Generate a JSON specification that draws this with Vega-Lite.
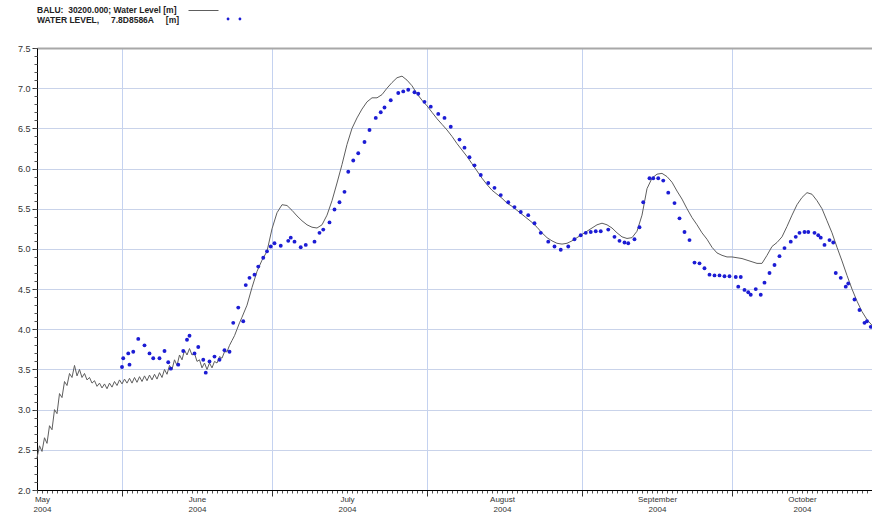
{
  "$schema": "https://vega.github.io/schema/vega-lite/v6.json",
  "width": 835,
  "height": 442,
  "autosize": "none",
  "padding": {"left": 37, "top": 48, "right": 0, "bottom": 30},
  "background": "white",
  "title": {
    "text": ["BALU:\u00a0\u00a030200.000; Water Level [m]", "WATER LEVEL,\u00a0\u00a0\u00a0\u00a0\u00a07.8D8586A\u00a0\u00a0\u00a0\u00a0\u00a0[m]"],
    "anchor": "start",
    "frame": "group",
    "font": "Liberation Sans",
    "fontSize": 8.5,
    "fontWeight": "bold",
    "color": "#222",
    "lineHeight": 10,
    "offset": 0,
    "dy": 29
  },
  "datasets": {
    "balu": [
      {"t":"2004-05-15T00:00","v":2.40},{"t":"2004-05-15T12:00","v":2.55},
      {"t":"2004-05-16T00:00","v":2.48},{"t":"2004-05-16T12:00","v":2.65},
      {"t":"2004-05-17T00:00","v":2.58},{"t":"2004-05-17T12:00","v":2.80},
      {"t":"2004-05-18T00:00","v":2.75},{"t":"2004-05-18T12:00","v":3.00},
      {"t":"2004-05-19T00:00","v":2.95},{"t":"2004-05-19T12:00","v":3.20},
      {"t":"2004-05-20T00:00","v":3.15},{"t":"2004-05-20T12:00","v":3.35},
      {"t":"2004-05-21T00:00","v":3.30},{"t":"2004-05-21T12:00","v":3.45},
      {"t":"2004-05-22T00:00","v":3.40},{"t":"2004-05-22T12:00","v":3.55},
      {"t":"2004-05-23T00:00","v":3.42},{"t":"2004-05-23T12:00","v":3.50},
      {"t":"2004-05-24T00:00","v":3.40},{"t":"2004-05-24T12:00","v":3.45},
      {"t":"2004-05-25T00:00","v":3.37},{"t":"2004-05-25T12:00","v":3.40},
      {"t":"2004-05-26T00:00","v":3.33},{"t":"2004-05-26T12:00","v":3.36},
      {"t":"2004-05-27T00:00","v":3.29},{"t":"2004-05-27T12:00","v":3.33},
      {"t":"2004-05-28T00:00","v":3.27},{"t":"2004-05-28T12:00","v":3.32},
      {"t":"2004-05-29T00:00","v":3.26},{"t":"2004-05-29T12:00","v":3.33},
      {"t":"2004-05-30T00:00","v":3.28},{"t":"2004-05-30T12:00","v":3.35},
      {"t":"2004-05-31T00:00","v":3.30},{"t":"2004-05-31T12:00","v":3.37},
      {"t":"2004-06-01T00:00","v":3.32},{"t":"2004-06-01T12:00","v":3.38},
      {"t":"2004-06-02T00:00","v":3.33},{"t":"2004-06-02T12:00","v":3.39},
      {"t":"2004-06-03T00:00","v":3.33},{"t":"2004-06-03T12:00","v":3.40},
      {"t":"2004-06-04T00:00","v":3.34},{"t":"2004-06-04T12:00","v":3.41},
      {"t":"2004-06-05T00:00","v":3.35},{"t":"2004-06-05T12:00","v":3.42},
      {"t":"2004-06-06T00:00","v":3.36},{"t":"2004-06-06T12:00","v":3.43},
      {"t":"2004-06-07T00:00","v":3.37},{"t":"2004-06-07T12:00","v":3.44},
      {"t":"2004-06-08T00:00","v":3.38},{"t":"2004-06-08T12:00","v":3.46},
      {"t":"2004-06-09T00:00","v":3.40},{"t":"2004-06-09T12:00","v":3.50},
      {"t":"2004-06-10T00:00","v":3.44},{"t":"2004-06-10T12:00","v":3.55},
      {"t":"2004-06-11T00:00","v":3.50},{"t":"2004-06-11T12:00","v":3.62},
      {"t":"2004-06-12T00:00","v":3.55},{"t":"2004-06-12T12:00","v":3.68},
      {"t":"2004-06-13T00:00","v":3.62},{"t":"2004-06-13T12:00","v":3.74},
      {"t":"2004-06-14T00:00","v":3.68},{"t":"2004-06-14T12:00","v":3.76},
      {"t":"2004-06-15T00:00","v":3.68},{"t":"2004-06-15T12:00","v":3.70},
      {"t":"2004-06-16T00:00","v":3.60},{"t":"2004-06-16T12:00","v":3.62},
      {"t":"2004-06-17T00:00","v":3.52},{"t":"2004-06-17T12:00","v":3.58},
      {"t":"2004-06-18T00:00","v":3.50},{"t":"2004-06-18T12:00","v":3.58},
      {"t":"2004-06-19T00:00","v":3.52},{"t":"2004-06-19T12:00","v":3.60},
      {"t":"2004-06-20T00:00","v":3.58},{"t":"2004-06-20T12:00","v":3.66},
      {"t":"2004-06-21T00:00","v":3.64},{"t":"2004-06-21T12:00","v":3.72},
      {"t":"2004-06-22T00:00","v":3.72},{"t":"2004-06-22T12:00","v":3.80},
      {"t":"2004-06-23T00:00","v":3.86},{"t":"2004-06-23T12:00","v":3.92},
      {"t":"2004-06-24T00:00","v":4.00},{"t":"2004-06-24T12:00","v":4.08},
      {"t":"2004-06-25T00:00","v":4.15},
      {"t":"2004-06-26T00:00","v":4.30},{"t":"2004-06-27T00:00","v":4.52},
      {"t":"2004-06-28T00:00","v":4.72},{"t":"2004-06-29T00:00","v":4.86},
      {"t":"2004-06-30T00:00","v":4.97},{"t":"2004-07-01T00:00","v":5.25},
      {"t":"2004-07-02T00:00","v":5.45},{"t":"2004-07-03T00:00","v":5.55},
      {"t":"2004-07-04T00:00","v":5.54},{"t":"2004-07-05T00:00","v":5.48},
      {"t":"2004-07-06T00:00","v":5.41},{"t":"2004-07-07T00:00","v":5.35},
      {"t":"2004-07-08T00:00","v":5.30},{"t":"2004-07-09T00:00","v":5.27},
      {"t":"2004-07-10T00:00","v":5.26},{"t":"2004-07-11T00:00","v":5.30},
      {"t":"2004-07-12T00:00","v":5.42},{"t":"2004-07-13T00:00","v":5.60},
      {"t":"2004-07-14T00:00","v":5.82},{"t":"2004-07-15T00:00","v":6.05},
      {"t":"2004-07-16T00:00","v":6.30},{"t":"2004-07-17T00:00","v":6.50},
      {"t":"2004-07-18T00:00","v":6.63},{"t":"2004-07-19T00:00","v":6.74},
      {"t":"2004-07-20T00:00","v":6.83},{"t":"2004-07-21T00:00","v":6.88},
      {"t":"2004-07-22T00:00","v":6.88},{"t":"2004-07-23T00:00","v":6.92},
      {"t":"2004-07-24T00:00","v":7.00},{"t":"2004-07-25T00:00","v":7.07},
      {"t":"2004-07-26T00:00","v":7.13},{"t":"2004-07-27T00:00","v":7.15},
      {"t":"2004-07-28T00:00","v":7.10},{"t":"2004-07-29T00:00","v":7.03},
      {"t":"2004-07-30T00:00","v":6.93},{"t":"2004-07-31T00:00","v":6.85},
      {"t":"2004-08-01T00:00","v":6.78},{"t":"2004-08-02T00:00","v":6.70},
      {"t":"2004-08-03T00:00","v":6.62},{"t":"2004-08-04T00:00","v":6.55},
      {"t":"2004-08-05T00:00","v":6.48},{"t":"2004-08-06T00:00","v":6.40},
      {"t":"2004-08-07T00:00","v":6.31},{"t":"2004-08-08T00:00","v":6.23},
      {"t":"2004-08-09T00:00","v":6.15},{"t":"2004-08-10T00:00","v":6.06},
      {"t":"2004-08-11T00:00","v":5.97},{"t":"2004-08-12T00:00","v":5.88},
      {"t":"2004-08-13T00:00","v":5.80},{"t":"2004-08-14T00:00","v":5.73},
      {"t":"2004-08-15T00:00","v":5.68},{"t":"2004-08-16T00:00","v":5.63},
      {"t":"2004-08-17T00:00","v":5.57},{"t":"2004-08-18T00:00","v":5.53},
      {"t":"2004-08-19T00:00","v":5.48},{"t":"2004-08-20T00:00","v":5.43},
      {"t":"2004-08-21T00:00","v":5.38},{"t":"2004-08-22T00:00","v":5.33},
      {"t":"2004-08-23T00:00","v":5.27},{"t":"2004-08-24T00:00","v":5.20},
      {"t":"2004-08-25T00:00","v":5.14},{"t":"2004-08-26T00:00","v":5.10},
      {"t":"2004-08-27T00:00","v":5.07},{"t":"2004-08-28T00:00","v":5.06},
      {"t":"2004-08-29T00:00","v":5.07},{"t":"2004-08-30T00:00","v":5.10},
      {"t":"2004-08-31T00:00","v":5.14},{"t":"2004-09-01T00:00","v":5.18},
      {"t":"2004-09-02T00:00","v":5.22},{"t":"2004-09-03T00:00","v":5.26},
      {"t":"2004-09-04T00:00","v":5.30},{"t":"2004-09-05T00:00","v":5.32},
      {"t":"2004-09-06T00:00","v":5.30},{"t":"2004-09-07T00:00","v":5.26},
      {"t":"2004-09-08T00:00","v":5.20},{"t":"2004-09-09T00:00","v":5.15},
      {"t":"2004-09-10T00:00","v":5.13},{"t":"2004-09-11T00:00","v":5.14},
      {"t":"2004-09-12T00:00","v":5.22},{"t":"2004-09-13T00:00","v":5.42},
      {"t":"2004-09-14T00:00","v":5.75},{"t":"2004-09-15T00:00","v":5.88},
      {"t":"2004-09-16T00:00","v":5.93},{"t":"2004-09-17T00:00","v":5.94},
      {"t":"2004-09-18T00:00","v":5.90},{"t":"2004-09-19T00:00","v":5.83},
      {"t":"2004-09-20T00:00","v":5.72},{"t":"2004-09-21T00:00","v":5.62},
      {"t":"2004-09-22T00:00","v":5.50},{"t":"2004-09-23T00:00","v":5.39},
      {"t":"2004-09-24T00:00","v":5.30},{"t":"2004-09-25T00:00","v":5.20},
      {"t":"2004-09-26T00:00","v":5.12},{"t":"2004-09-27T00:00","v":5.02},
      {"t":"2004-09-28T00:00","v":4.95},{"t":"2004-09-29T00:00","v":4.92},
      {"t":"2004-09-30T00:00","v":4.90},{"t":"2004-10-01T00:00","v":4.90},
      {"t":"2004-10-02T00:00","v":4.89},{"t":"2004-10-03T00:00","v":4.88},
      {"t":"2004-10-04T00:00","v":4.86},{"t":"2004-10-05T00:00","v":4.84},
      {"t":"2004-10-06T00:00","v":4.82},{"t":"2004-10-07T00:00","v":4.82},
      {"t":"2004-10-08T00:00","v":4.92},{"t":"2004-10-09T00:00","v":5.03},
      {"t":"2004-10-10T00:00","v":5.08},{"t":"2004-10-11T00:00","v":5.15},
      {"t":"2004-10-12T00:00","v":5.28},{"t":"2004-10-13T00:00","v":5.42},
      {"t":"2004-10-14T00:00","v":5.55},{"t":"2004-10-15T00:00","v":5.64},
      {"t":"2004-10-16T00:00","v":5.70},{"t":"2004-10-17T00:00","v":5.68},
      {"t":"2004-10-18T00:00","v":5.60},{"t":"2004-10-19T00:00","v":5.50},
      {"t":"2004-10-20T00:00","v":5.35},{"t":"2004-10-21T00:00","v":5.20},
      {"t":"2004-10-22T00:00","v":5.02},{"t":"2004-10-23T00:00","v":4.85},
      {"t":"2004-10-24T00:00","v":4.67},{"t":"2004-10-25T00:00","v":4.50},
      {"t":"2004-10-26T00:00","v":4.35},{"t":"2004-10-27T00:00","v":4.22},
      {"t":"2004-10-28T00:00","v":4.12},{"t":"2004-10-29T00:00","v":4.05}
    ],
    "obs": [
      {"t":"2004-06-01T00:00","v":3.53},{"t":"2004-06-01T06:00","v":3.64},
      {"t":"2004-06-02T06:00","v":3.70},{"t":"2004-06-02T12:00","v":3.56},
      {"t":"2004-06-03T06:00","v":3.72},{"t":"2004-06-04T06:00","v":3.88},
      {"t":"2004-06-05T12:00","v":3.80},{"t":"2004-06-06T12:00","v":3.70},
      {"t":"2004-06-07T06:00","v":3.64},{"t":"2004-06-08T12:00","v":3.64},
      {"t":"2004-06-09T12:00","v":3.73},{"t":"2004-06-10T06:00","v":3.59},
      {"t":"2004-06-10T18:00","v":3.51},{"t":"2004-06-12T06:00","v":3.56},
      {"t":"2004-06-13T06:00","v":3.73},{"t":"2004-06-14T00:00","v":3.87},
      {"t":"2004-06-14T12:00","v":3.92},{"t":"2004-06-15T12:00","v":3.70},
      {"t":"2004-06-16T06:00","v":3.78},{"t":"2004-06-17T06:00","v":3.62},
      {"t":"2004-06-17T18:00","v":3.46},{"t":"2004-06-18T12:00","v":3.60},
      {"t":"2004-06-19T12:00","v":3.66},{"t":"2004-06-20T12:00","v":3.62},
      {"t":"2004-06-21T12:00","v":3.74},{"t":"2004-06-22T12:00","v":3.72},
      {"t":"2004-06-23T06:00","v":4.08},{"t":"2004-06-24T06:00","v":4.27},
      {"t":"2004-06-25T06:00","v":4.10},{"t":"2004-06-25T18:00","v":4.55},
      {"t":"2004-06-26T12:00","v":4.64},{"t":"2004-06-27T12:00","v":4.68},
      {"t":"2004-06-28T06:00","v":4.78},{"t":"2004-06-29T06:00","v":4.89},
      {"t":"2004-06-30T00:00","v":4.97},{"t":"2004-06-30T18:00","v":5.03},
      {"t":"2004-07-01T12:00","v":5.07},{"t":"2004-07-02T18:00","v":5.04},
      {"t":"2004-07-04T06:00","v":5.10},{"t":"2004-07-04T18:00","v":5.14},
      {"t":"2004-07-05T12:00","v":5.09},{"t":"2004-07-06T18:00","v":5.02},
      {"t":"2004-07-07T18:00","v":5.05},{"t":"2004-07-09T12:00","v":5.09},
      {"t":"2004-07-10T12:00","v":5.20},{"t":"2004-07-11T06:00","v":5.24},
      {"t":"2004-07-12T12:00","v":5.33},{"t":"2004-07-13T12:00","v":5.49},
      {"t":"2004-07-14T12:00","v":5.58},{"t":"2004-07-15T12:00","v":5.71},
      {"t":"2004-07-16T06:00","v":5.96},{"t":"2004-07-17T06:00","v":6.10},
      {"t":"2004-07-18T06:00","v":6.19},{"t":"2004-07-19T12:00","v":6.33},
      {"t":"2004-07-20T12:00","v":6.48},{"t":"2004-07-21T18:00","v":6.63},
      {"t":"2004-07-22T18:00","v":6.70},{"t":"2004-07-23T12:00","v":6.76},
      {"t":"2004-07-24T18:00","v":6.85},{"t":"2004-07-26T06:00","v":6.94},
      {"t":"2004-07-27T06:00","v":6.96},{"t":"2004-07-28T06:00","v":6.98},
      {"t":"2004-07-29T12:00","v":6.95},{"t":"2004-07-30T06:00","v":6.93},
      {"t":"2004-07-31T12:00","v":6.83},{"t":"2004-08-01T18:00","v":6.77},
      {"t":"2004-08-03T06:00","v":6.68},{"t":"2004-08-04T12:00","v":6.63},
      {"t":"2004-08-05T18:00","v":6.52},{"t":"2004-08-07T12:00","v":6.36},
      {"t":"2004-08-08T12:00","v":6.26},{"t":"2004-08-09T12:00","v":6.14},
      {"t":"2004-08-10T12:00","v":6.04},{"t":"2004-08-11T18:00","v":5.92},
      {"t":"2004-08-13T06:00","v":5.82},{"t":"2004-08-14T12:00","v":5.76},
      {"t":"2004-08-15T18:00","v":5.67},{"t":"2004-08-17T06:00","v":5.58},
      {"t":"2004-08-18T12:00","v":5.52},{"t":"2004-08-19T18:00","v":5.46},
      {"t":"2004-08-21T06:00","v":5.42},{"t":"2004-08-22T12:00","v":5.32},
      {"t":"2004-08-23T18:00","v":5.20},{"t":"2004-08-25T06:00","v":5.09},
      {"t":"2004-08-26T12:00","v":5.03},{"t":"2004-08-27T18:00","v":4.99},
      {"t":"2004-08-29T06:00","v":5.03},{"t":"2004-08-30T12:00","v":5.12},
      {"t":"2004-08-31T18:00","v":5.17},{"t":"2004-09-01T18:00","v":5.20},
      {"t":"2004-09-02T18:00","v":5.21},{"t":"2004-09-03T18:00","v":5.22},
      {"t":"2004-09-04T18:00","v":5.22},{"t":"2004-09-06T06:00","v":5.24},
      {"t":"2004-09-07T12:00","v":5.15},{"t":"2004-09-08T12:00","v":5.10},
      {"t":"2004-09-09T12:00","v":5.08},{"t":"2004-09-10T06:00","v":5.07},
      {"t":"2004-09-11T12:00","v":5.12},{"t":"2004-09-12T12:00","v":5.27},
      {"t":"2004-09-13T06:00","v":5.58},{"t":"2004-09-14T12:00","v":5.88},
      {"t":"2004-09-15T06:00","v":5.88},{"t":"2004-09-16T06:00","v":5.88},
      {"t":"2004-09-17T06:00","v":5.85},{"t":"2004-09-18T06:00","v":5.70},
      {"t":"2004-09-19T12:00","v":5.57},{"t":"2004-09-20T12:00","v":5.38},
      {"t":"2004-09-21T12:00","v":5.21},{"t":"2004-09-22T12:00","v":5.11},
      {"t":"2004-09-23T12:00","v":4.83},{"t":"2004-09-24T12:00","v":4.82},
      {"t":"2004-09-25T12:00","v":4.76},{"t":"2004-09-26T12:00","v":4.68},
      {"t":"2004-09-27T12:00","v":4.67},{"t":"2004-09-28T12:00","v":4.67},
      {"t":"2004-09-29T12:00","v":4.66},{"t":"2004-09-30T12:00","v":4.66},
      {"t":"2004-10-01T18:00","v":4.65},{"t":"2004-10-02T06:00","v":4.53},
      {"t":"2004-10-02T18:00","v":4.65},{"t":"2004-10-03T12:00","v":4.49},
      {"t":"2004-10-04T06:00","v":4.46},{"t":"2004-10-04T18:00","v":4.43},
      {"t":"2004-10-05T18:00","v":4.50},{"t":"2004-10-06T18:00","v":4.43},
      {"t":"2004-10-07T12:00","v":4.58},{"t":"2004-10-08T12:00","v":4.70},
      {"t":"2004-10-09T12:00","v":4.80},{"t":"2004-10-10T12:00","v":4.91},
      {"t":"2004-10-11T12:00","v":5.01},{"t":"2004-10-12T18:00","v":5.09},
      {"t":"2004-10-13T18:00","v":5.15},{"t":"2004-10-14T12:00","v":5.20},
      {"t":"2004-10-15T12:00","v":5.21},{"t":"2004-10-16T06:00","v":5.21},
      {"t":"2004-10-17T12:00","v":5.20},{"t":"2004-10-18T06:00","v":5.17},
      {"t":"2004-10-18T18:00","v":5.14},{"t":"2004-10-19T12:00","v":5.05},
      {"t":"2004-10-20T12:00","v":5.11},{"t":"2004-10-21T06:00","v":5.08},
      {"t":"2004-10-21T18:00","v":4.70},{"t":"2004-10-22T18:00","v":4.64},
      {"t":"2004-10-23T18:00","v":4.53},{"t":"2004-10-24T06:00","v":4.57},
      {"t":"2004-10-25T12:00","v":4.37},{"t":"2004-10-26T12:00","v":4.24},
      {"t":"2004-10-27T12:00","v":4.08},{"t":"2004-10-28T00:00","v":4.10},
      {"t":"2004-10-28T18:00","v":4.03}
    ]
  },
  "layer": [
    {
      "data": {"name": "balu"},
      "mark": {"type": "rule", "opacity": 0},
      "encoding": {
        "x": {
          "field": "t", "type": "temporal",
          "scale": {"domain": [{"year": 2004, "month": 5, "date": 15}, {"year": 2004, "month": 10, "date": 29}]},
          "axis": {
            "orient": "bottom", "title": null, "labels": false, "grid": false,
            "domain": false, "ticks": true, "tickSize": 3, "tickColor": "#555",
            "tickCount": {"interval": "day", "step": 1}
          }
        }
      }
    },
    {
      "data": {"name": "balu"},
      "mark": {"type": "line", "strokeWidth": 1},
      "encoding": {
        "x": {
          "field": "t", "type": "temporal",
          "axis": {
            "orient": "bottom", "title": null, "labels": false,
            "values": [
              {"year": 2004, "month": 6, "date": 1}, {"year": 2004, "month": 7, "date": 1},
              {"year": 2004, "month": 8, "date": 1}, {"year": 2004, "month": 9, "date": 1},
              {"year": 2004, "month": 10, "date": 1}
            ],
            "grid": true, "gridColor": "#c4d2f0", "gridWidth": 1,
            "domain": true, "domainColor": "#000", "domainWidth": 1,
            "ticks": true, "tickSize": 6, "tickColor": "#333"
          }
        },
        "y": {
          "field": "v", "type": "quantitative",
          "scale": {"domain": [2, 7.5], "nice": false, "zero": false},
          "axis": {
            "orient": "left", "title": null,
            "values": [2, 2.5, 3, 3.5, 4, 4.5, 5, 5.5, 6, 6.5, 7, 7.5],
            "format": ".1f",
            "grid": true,
            "gridColor": {"condition": {"test": "datum.value >= 7.49", "value": "#a8a8a8"}, "value": "#c9d3ea"},
            "gridWidth": {"condition": {"test": "datum.value >= 7.49", "value": 2}, "value": 1},
            "domain": true, "domainColor": "#000", "domainWidth": 1,
            "ticks": true, "tickSize": 5, "tickColor": "#333",
            "labelFont": "Liberation Sans", "labelFontSize": 9, "labelColor": "#333", "labelPadding": 2
          }
        },
        "stroke": {
          "datum": "BALU", "type": "nominal",
          "scale": {"domain": ["BALU"], "range": ["#5e5e5e"]},
          "legend": {
            "orient": "none", "legendX": 151, "legendY": -53, "title": null,
            "symbolType": "stroke", "symbolSize": 900, "symbolStrokeWidth": 1,
            "labelExpr": "''", "padding": 0, "labelOffset": 0
          }
        }
      }
    },
    {
      "data": {"name": "obs"},
      "mark": {"type": "point", "filled": true, "size": 15, "opacity": 1},
      "encoding": {
        "x": {
          "field": "t", "type": "temporal",
          "axis": {
            "orient": "bottom", "title": null,
            "values": [
              {"year": 2004, "month": 5, "date": 16}, {"year": 2004, "month": 6, "date": 16},
              {"year": 2004, "month": 7, "date": 16}, {"year": 2004, "month": 8, "date": 16},
              {"year": 2004, "month": 9, "date": 16}, {"year": 2004, "month": 10, "date": 15}
            ],
            "labelExpr": "[timeFormat(datum.value, '%B'), timeFormat(datum.value, '%Y')]",
            "labelFlush": false, "labelOverlap": false,
            "grid": false, "domain": false, "ticks": false,
            "labelFont": "Liberation Sans", "labelFontSize": 8, "labelColor": "#333",
            "labelLineHeight": 10, "labelPadding": 5
          }
        },
        "y": {
          "field": "v", "type": "quantitative",
          "axis": {
            "orient": "left", "title": null, "labels": false, "grid": false, "domain": false,
            "values": [2.0,2.1,2.2,2.3,2.4,2.5,2.6,2.7,2.8,2.9,3.0,3.1,3.2,3.3,3.4,3.5,3.6,3.7,3.8,3.9,4.0,4.1,4.2,4.3,4.4,4.5,4.6,4.7,4.8,4.9,5.0,5.1,5.2,5.3,5.4,5.5,5.6,5.7,5.8,5.9,6.0,6.1,6.2,6.3,6.4,6.5,6.6,6.7,6.8,6.9,7.0,7.1,7.2,7.3,7.4,7.5],
            "ticks": true, "tickSize": 3, "tickColor": "#555"
          }
        },
        "fill": {
          "datum": "WATER LEVEL", "type": "nominal",
          "scale": {"domain": ["WATER LEVEL"], "range": ["#1c1cd4"]},
          "legend": {
            "orient": "none", "legendX": 190, "legendY": -36, "title": null,
            "symbolType": "M-1.05,0a0.2,0.2 0 1,0 0.4,0a0.2,0.2 0 1,0 -0.4,0Z M0.65,0a0.2,0.2 0 1,0 0.4,0a0.2,0.2 0 1,0 -0.4,0Z",
            "symbolSize": 196, "symbolStrokeWidth": 0,
            "labelExpr": "''", "padding": 0, "labelOffset": 0
          }
        }
      }
    }
  ],
  "resolve": {"axis": {"x": "independent", "y": "independent"}},
  "config": {
    "view": {"stroke": null},
    "font": "Liberation Sans"
  }
}
